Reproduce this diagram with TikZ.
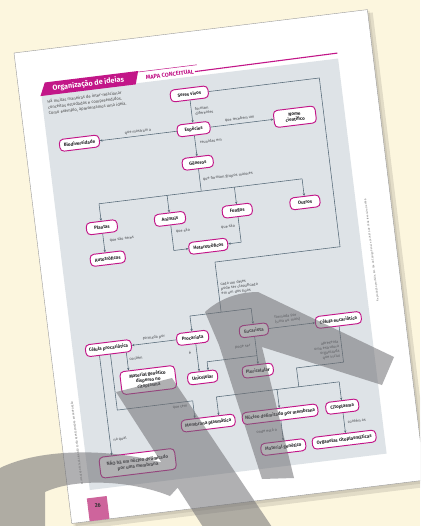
\documentclass[tikz,border=0pt]{standalone}
\usepackage{fontspec}
\setmainfont{Fira Sans}
\usetikzlibrary{arrows.meta,calc}
\definecolor{cream}{RGB}{252,246,222}
\definecolor{panel}{RGB}{222,227,231}
\definecolor{mag}{RGB}{194,22,136}
\definecolor{wirec}{RGB}{84,104,118}
\definecolor{ink}{RGB}{35,35,38}
\definecolor{lbl}{RGB}{72,74,78}
\definecolor{tabpink}{RGB}{206,100,156}
\definecolor{wm}{RGB}{112,112,116}
\begin{document}
\begin{tikzpicture}[x=1pt,y=-1pt,
  box/.style={draw=mag,line width=0.95pt,fill=white,rounded corners=4pt,
    minimum height=12pt,inner sep=1pt,align=center,text=ink,
    font=\fontsize{4.6}{5.6}\selectfont\bfseries},
  lab/.style={text=lbl,font=\fontsize{3.9}{4.7}\selectfont,inner sep=0pt,align=left},
  wire/.style={draw=wirec,line width=0.55pt},
  arr/.style={wire,-{Stealth[length=2.6pt,width=2.3pt]}},
]
\useasboundingbox (0,0) rectangle (420,526);
\clip (0,0) rectangle (420,526);
\fill[cream] (0,0) rectangle (420,526);

% the printed page, tilted on the desk
\begin{scope}[transform canvas={shift={(14,53)},rotate=7}]
  \fill[black,opacity=0.10] (3.5,3.5) rectangle (361,481);
  \fill[black,opacity=0.08] (1.5,1.5) rectangle (358,477);
  \fill[white] (0,0) rectangle (356,474);
  \draw[black!40,line width=0.4pt] (0,0) rectangle (356,474);
  \fill[panel] (22,45) rectangle (321,443);

  % heading
  \fill[mag] (21,46) -- (27,33) -- (121,33) -- (117,46) -- cycle;
  \node[text=white,font=\fontsize{7.2}{7.2}\selectfont\bfseries,inner sep=0pt] (title) at (70,40) {Organização de ideias};
  \draw[mag,line width=0.5pt] (121,34) -- (180,34);
  \node[text=mag,font=\fontsize{5.8}{5.8}\selectfont\bfseries,inner sep=1pt] (mc) at (152,40.5) {MAPA CONCEITUAL};
  \coordinate (ruleEnd) at (321,39.5);
  \draw[mag,line width=1.1pt] (mc.east) -- (ruleEnd);

  \node[anchor=north west,align=left,font=\fontsize{4.2}{5.7}\selectfont,text=black!72,inner sep=0pt] (intro) at (27,50.5)
    {Há muitas maneiras de inter-relacionar\\conceitos estudados e compreendidos.\\Como exemplo, apresentamos uma ideia.};

  % margin notes
  \node[rotate=90,font=\fontsize{2.7}{3}\selectfont,text=black!55,inner sep=0pt] (rnote) at (331,239)
    {Reprodução proibida. Art. 184 do Código Penal e Lei 9.610 de 19 de fevereiro de 1998.};
  \node[rotate=90,font=\fontsize{2.6}{3}\selectfont,text=black!55,inner sep=0pt] (lnote) at (15,395)
    {AS IMAGENS DESTA PÁGINA NÃO ESTÃO REPRESENTADAS EM PROPORÇÃO};

  % page number
  \fill[tabpink] (18,451) rectangle (38,474);
  \node[font=\fontsize{5.5}{5.5}\selectfont\bfseries,text=black!80,inner sep=0pt] (pnum) at (28,459) {26};

  % concepts
  \node[box,minimum width=38pt] (sv) at (169,62) {Seres vivos};
  \node[box,minimum width=33pt] (esp) at (169,97.5) {Espécies};
  \node[box,minimum width=42pt,minimum height=17pt] (nome) at (271,97.5) {Nome\\científico};
  \node[box,minimum width=40pt] (bio) at (54,97.5) {Biodiversidade};
  \node[box,minimum width=31pt] (gen) at (169,131.3) {Gêneros};
  \node[box,minimum width=31pt] (pla) at (66,183.7) {Plantas};
  \node[box,minimum width=31pt] (ani) at (134.6,183.7) {Animais};
  \node[box,minimum width=30pt] (fun) at (202.4,183.7) {Fungos};
  \node[box,minimum width=30pt] (out) at (270.6,183.7) {Outros};
  \node[box,minimum width=35pt] (aut) at (68,215.5) {Autotróficos};
  \node[box,minimum width=39pt] (het) at (169.3,215.5) {Heterotróficos};
  \node[box,minimum width=32pt] (pro) at (142.6,304.5) {Procariota};
  \node[box,minimum width=29pt] (euc) at (204.3,304.5) {Eucariota};
  \node[box,minimum width=46pt] (ceu) at (289.4,304.5) {Célula eucariótica};
  \node[box,minimum width=46pt] (cpr) at (57.8,304.5) {Célula procariótica};
  \node[box,minimum width=55pt,minimum height=23pt] (mat1) at (93.4,341) {Material genético\\disperso no\\citoplasma};
  \node[box,minimum width=30pt] (uni) at (147.7,345) {Unicelular};
  \node[box,minimum width=31pt] (plu) at (203.3,345) {Pluricelular};
  \node[box,minimum width=54pt] (mem) at (147.7,391) {Membrana plasmática};
  \node[box,minimum width=76pt] (nuc) at (220.1,391) {Núcleo delimitado por membrana};
  \node[box,minimum width=33pt] (cit) at (282.7,391) {Citoplasma};
  \node[box,minimum width=45pt] (mat2) at (219.3,424) {Material genético};
  \node[box,minimum width=64pt] (org) at (280.6,424) {Organelas citoplasmáticas};
  \node[box,minimum width=76pt,minimum height=21pt] (nao) at (72.8,422.3) {NÃO há um núcleo delimitado\\por uma membrana};

  % helper points for bends and buses
  \coordinate (busG) at (169,160);
  \coordinate (loopR) at (300,232);
  \coordinate (loopL) at (174,232);
  \coordinate (busE) at (174,282.5);
  \coordinate (xu) at (145,0);
  \coordinate (brR) at (204.3,330);
  \coordinate (brL) at (154,330);
  \coordinate (c1) at (289.4,347);
  \coordinate (c2) at (242,347);
  \coordinate (c3) at (242,366);
  \coordinate (bL) at (159,366);
  \coordinate (bR) at (282.7,366);
  \coordinate (x48) at (48,0);
  \coordinate (x75) at (75,0);
  \coordinate (x59) at (59,0);
  \coordinate (q1) at (135,367);

  % connectors, top half
  \draw[arr] (sv.south) -- (esp.north);
  \draw[arr] (esp.east) -- (nome.west);
  \draw[arr] (esp.west) -- (bio.east);
  \draw[arr] (esp.south) -- (gen.north);
  \draw[wire] (gen.south) -- (busG);
  \draw[wire] (pla.north |- busG) -- (out.north |- busG);
  \draw[arr] (pla.north |- busG) -- (pla.north);
  \draw[arr] (ani.north |- busG) -- (ani.north);
  \draw[arr] (fun.north |- busG) -- (fun.north);
  \draw[arr] (out.north |- busG) -- (out.north);
  \draw[arr] (pla.south) -- (pla.south |- aut.north);
  \draw[arr] (ani.south) |- (het.west);
  \draw[arr] (fun.south) |- (het.east);

  % the long return path from Seres vivos
  \draw[wire] (sv.east) -| (loopR) -- (loopL) -- (busE);
  \draw[wire] (pro.north |- busE) -- (euc.north |- busE);
  \draw[arr] (pro.north |- busE) -- (pro.north);
  \draw[arr] (euc.north |- busE) -- (euc.north);

  % connectors, bottom half
  \draw[arr] (pro.west) -- (cpr.east);
  \draw[arr] (euc.east) -- (ceu.west);
  \draw[arr] (pro.south -| xu) -- (uni.north -| xu);
  \draw[arr] (euc.south) -- (euc.south |- plu.north);
  \draw[arr] (brR) -- (brL) -- (uni.north -| brL);
  \draw[wire] (ceu.south) -- (c1) -- (c2) -- (c3);
  \draw[wire] (bL) -- (bR);
  \draw[arr] (bL) -- (mem.north -| bL);
  \draw[arr] (nuc.north |- bL) -- (nuc.north);
  \draw[arr] (bR) -- (cit.north);
  \draw[arr] (cpr.south -| x48) -- (nao.north -| x48);
  \draw[arr] (cpr.south -| x75) -- (mat1.north -| x75);
  \draw[arr] (cpr.south -| x59) |- (q1) -- (mem.north -| q1);
  \draw[arr] (nuc.south) -- (nuc.south |- mat2.north);
  \draw[arr] (cit.south) -- (cit.south |- org.north);

  % link phrases
  \node[lab,anchor=west] (l1) at (172.5,80) {formam\\diferentes};
  \node[lab] (l2) at (216,93) {que recebem um};
  \node[lab] (l3) at (113.5,93.3) {que mostram a};
  \node[lab,anchor=west] (l4) at (173.5,111.3) {reunidas em};
  \node[lab,anchor=west] (l5) at (172,148.5) {que formam grupos maiores};
  \node[lab,anchor=west] (l6) at (72,197.8) {que são seres};
  \node[lab] (l7) at (146,197.3) {que são};
  \node[lab] (l8) at (191.2,198.5) {que são};
  \node[lab,anchor=west] (l9) at (176.5,259.6) {cada um deles\\pode ser classificado\\em um dos tipos};
  \node[lab] (l10) at (104.3,299.7) {formada por};
  \node[lab] (l11) at (239,296.6) {formada por\\(uma ou mais)};
  \node[lab] (l12) at (138.2,319) {é};
  \node[lab] (l13) at (191.2,319.4) {pode ser};
  \node[lab] (l14) at (83.9,317.9) {contém};
  \node[lab,anchor=east,align=right] (l15) at (287,333.6) {apresenta\\uma estrutura\\organizada\\que inclui};
  \node[lab] (l16) at (121.6,371.8) {que tem};
  \node[lab] (l17) at (58.1,396.3) {na qual};
  \node[lab] (l18) at (204.7,406) {onde está o};
  \node[lab] (l19) at (295.3,406.8) {contém as};
\end{scope}

% translucent grey stamp printed across the sheet
\fill[wm,opacity=0.55]
  (205,312) .. controls (218,300) and (236,292) .. (258,292) -- (394,357) -- (382,385)
    -- (262,347) -- (294,478) -- (262,479) -- (219,345) -- cycle
  (116,392) -- (172,378) -- (274,530) -- (205,530) -- cycle
  (0,468) .. controls (40,448) and (120,445) .. (192,472) -- (170,496)
    .. controls (130,480) and (75,478) .. (45,492) -- (45,530) -- (0,530) -- cycle;
\end{tikzpicture}
\end{document}
